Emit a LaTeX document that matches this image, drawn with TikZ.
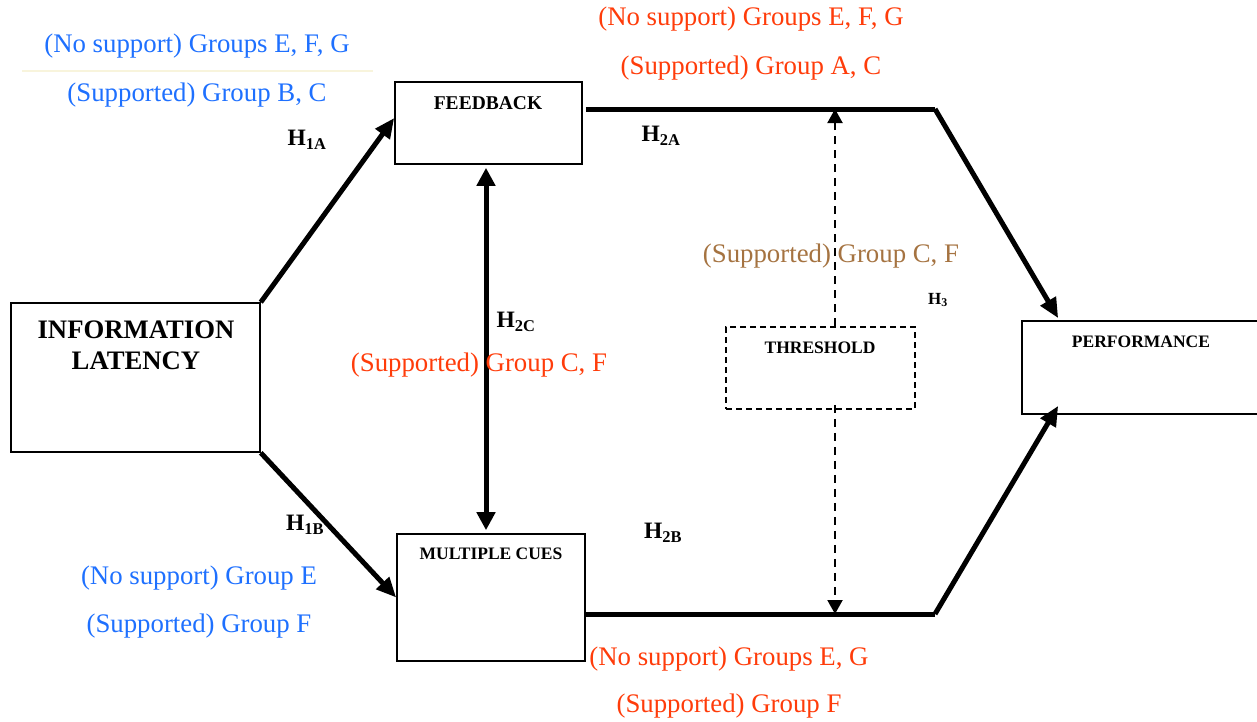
\documentclass[tikz,border=0pt]{standalone}
\usepackage{fontspec}
\setmainfont{Liberation Serif}
\usetikzlibrary{arrows.meta,calc}
\definecolor{bluetxt}{RGB}{30,112,255}
\definecolor{redtxt}{RGB}{255,60,10}
\definecolor{browntxt}{RGB}{165,115,65}
\definecolor{paleline}{RGB}{248,244,220}
\tikzset{
  box/.style={draw, line width=1.6pt, inner sep=0pt},
  dbox/.style={draw, dashed, line width=1.6pt, dash pattern=on 6pt off 4pt, inner sep=0pt},
  btitle/.style={font=\fontsize{17.5}{19}\selectfont\bfseries, inner sep=0pt},
  bigtitle/.style={font=\fontsize{26.7}{31}\selectfont\bfseries, inner sep=0pt, align=center},
  grp/.style={font=\fontsize{26.8}{30}\selectfont, inner sep=0pt},
  hlab/.style={font=\fontsize{23.5}{25}\selectfont\bfseries, inner sep=0pt},
  conn/.style={line width=5pt, -{Triangle[length=20pt,width=17pt]}},
  dconn/.style={line width=2pt, dash pattern=on 8pt off 6pt, -{Triangle[length=14pt,width=15pt]}},
}
\begin{document}
\begin{tikzpicture}[x=1pt,y=-1pt]
\useasboundingbox (0,0) rectangle (1257,721);
% boxes
\node[box, minimum width=249pt, minimum height=149pt] (info) at (135.5,377.5) {};
\node[bigtitle] (infot) at (136,345) {INFORMATION\\LATENCY};
\node[box, minimum width=187pt, minimum height=82pt] (fb) at (488.5,123) {};
\node[btitle, font=\fontsize{19.5}{21}\selectfont\bfseries] (fbt) at (488,103) {FEEDBACK};
\node[box, minimum width=188pt, minimum height=127pt] (mc) at (491,597.5) {};
\node[btitle] (mct) at (491,554) {MULTIPLE CUES};
\node[dbox, minimum width=189pt, minimum height=82pt] (thr) at (820.5,368) {};
\node[btitle] (thrt) at (820,348) {THRESHOLD};
\node[box, minimum width=240pt, minimum height=93pt] (perf) at (1142,367.5) {};
\node[btitle] (perft) at (1141,342) {PERFORMANCE};
% bend points
\coordinate (fbk) at (935,109);
\coordinate (mck) at (935,614);
% connectors
\draw[conn] (info.north east) -- ([yshift=5pt]fb.west);
\draw[conn] (info.south east) -- (mc.west);
\draw[line width=5pt, {Triangle[length=18pt,width=18pt]}-{Triangle[length=18pt,width=18pt]}]
  ([xshift=-2.5pt,yshift=-3pt]fb.south) -- ([xshift=-5pt,yshift=3pt]mc.north);
\draw[line width=5pt] ([xshift=3pt,yshift=14pt]fb.east) -- (fbk);
\draw[conn] (fbk) -- ([xshift=37pt,yshift=2pt]perf.north west);
\draw[line width=5pt] ([yshift=-16.5pt]mc.east) -- (mck);
\draw[conn] (mck) -- ([xshift=37pt,yshift=9pt]perf.south west);
\draw[dconn] ([xshift=14.5pt]thr.north) -- ([xshift=14.5pt]thr.north |- fbk);
\draw[dconn] ([xshift=14.5pt,yshift=5pt]thr.south) -- ([xshift=14.5pt]thr.south |- mck);
% pale line
\draw[paleline, line width=2pt] (22,71) -- (373,71);
% group labels
\node[grp, text=bluetxt] (l1) at (197,46) {(No support) Groups E, F, G};
\node[grp, text=bluetxt] (l2) at (197,95) {(Supported) Group B, C};
\node[grp, text=bluetxt] (l3) at (199,578) {(No support) Group E};
\node[grp, text=bluetxt] (l4) at (199,626) {(Supported) Group F};
\node[grp, text=redtxt] (l5) at (751,19) {(No support) Groups E, F, G};
\node[grp, text=redtxt] (l6) at (751,68) {(Supported) Group A, C};
\node[grp, text=redtxt] (l7) at (479,365) {(Supported) Group C, F};
\node[grp, text=redtxt] (l8) at (729,659) {(No support) Groups E, G};
\node[grp, text=redtxt] (l9) at (729,706) {(Supported) Group F};
\node[grp, text=browntxt] (l10) at (831,256) {(Supported) Group C, F};
% hypothesis labels
\node[hlab] (h1a) at (307,140) {H\textsubscript{1A}};
\node[hlab] (h2a) at (661,136) {H\textsubscript{2A}};
\node[hlab] (h2c) at (516,322) {H\textsubscript{2C}};
\node[hlab] (h1b) at (305,525) {H\textsubscript{1B}};
\node[hlab] (h2b) at (663,533) {H\textsubscript{2B}};
\node[hlab, font=\fontsize{17}{19}\selectfont\bfseries] (h3) at (938,300) {H\textsubscript{3}};
\end{tikzpicture}
\end{document}
